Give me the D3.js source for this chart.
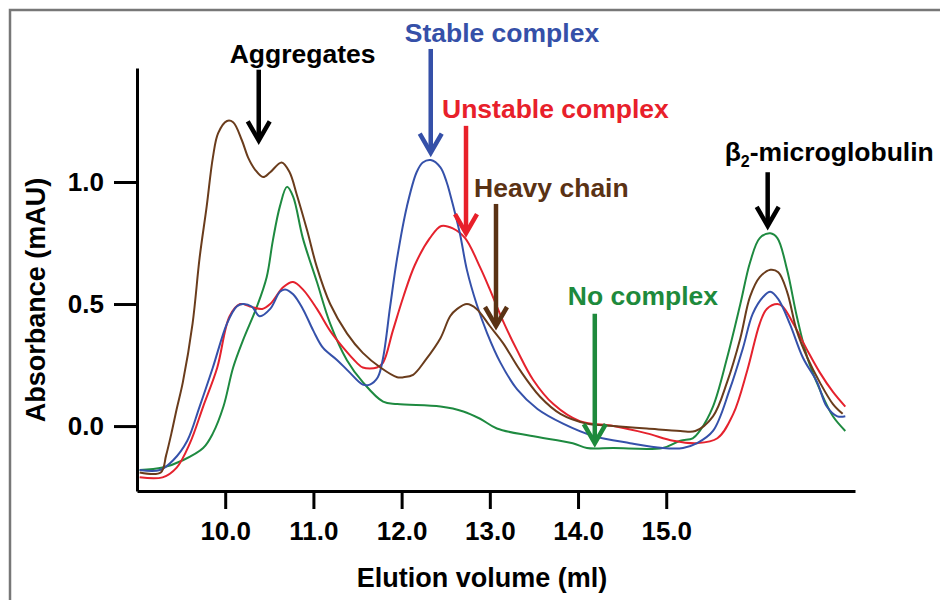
<!DOCTYPE html>
<html>
<head>
<meta charset="utf-8">
<script src="https://cdn.jsdelivr.net/npm/d3@7"></script>
<style>
  body { margin: 0; background: #fff; }
  text { font-family: "Liberation Sans", Arial, sans-serif; font-weight: bold; }
</style>
</head>
<body>
<div id="chart"></div>
<script>
// chromatogram traces, [elution volume (ml), absorbance (mAU)]
var stableComplex = [
  [9.03, -0.18], [9.26, -0.18], [9.41, -0.14], [9.57, -0.06], [9.71, 0.08], [9.86, 0.24],
  [10.02, 0.42], [10.13, 0.49], [10.20, 0.50], [10.30, 0.49], [10.39, 0.45], [10.51, 0.48],
  [10.62, 0.55], [10.68, 0.56], [10.77, 0.54], [10.88, 0.48], [11.00, 0.39], [11.11, 0.32],
  [11.27, 0.27], [11.41, 0.22], [11.56, 0.17], [11.64, 0.17], [11.73, 0.20], [11.79, 0.28],
  [11.87, 0.49], [11.95, 0.69], [12.06, 0.90], [12.17, 1.04], [12.24, 1.08], [12.33, 1.09],
  [12.44, 1.06], [12.51, 1.00], [12.55, 0.95], [12.66, 0.79], [12.74, 0.64], [12.85, 0.50],
  [12.97, 0.38], [13.12, 0.26], [13.31, 0.15], [13.54, 0.07], [13.83, 0.01], [14.17, -0.04],
  [14.59, -0.07], [14.96, -0.09], [15.19, -0.09], [15.35, -0.07], [15.53, -0.02], [15.72, 0.15],
  [15.87, 0.32], [15.98, 0.46], [16.10, 0.53], [16.18, 0.55], [16.27, 0.52], [16.40, 0.42],
  [16.55, 0.28], [16.71, 0.18], [16.82, 0.08], [16.94, 0.04], [17.03, 0.04]
];

var unstableComplex = [
  [9.03, -0.21], [9.29, -0.21], [9.45, -0.17], [9.60, -0.07], [9.75, 0.08], [9.91, 0.24],
  [10.05, 0.45], [10.17, 0.50], [10.28, 0.49], [10.42, 0.48], [10.51, 0.50], [10.66, 0.57],
  [10.77, 0.59], [10.88, 0.56], [11.04, 0.48], [11.19, 0.39], [11.34, 0.32], [11.49, 0.26],
  [11.56, 0.24], [11.72, 0.24], [11.79, 0.26], [11.90, 0.39], [12.02, 0.53], [12.15, 0.66],
  [12.32, 0.77], [12.45, 0.82], [12.58, 0.81], [12.72, 0.77], [12.89, 0.65], [13.00, 0.56],
  [13.15, 0.43], [13.31, 0.31], [13.49, 0.19], [13.72, 0.09], [14.02, 0.02], [14.40, 0.00],
  [14.78, -0.03], [15.08, -0.06], [15.35, -0.07], [15.58, -0.05], [15.76, 0.05], [15.92, 0.23],
  [16.06, 0.42], [16.14, 0.48], [16.26, 0.50], [16.32, 0.49], [16.44, 0.42], [16.60, 0.31],
  [16.74, 0.22], [16.89, 0.14], [17.03, 0.08]
];

var heavyChain = [
  [9.03, -0.19], [9.27, -0.19], [9.33, -0.12], [9.39, -0.03], [9.45, 0.07], [9.52, 0.18],
  [9.63, 0.42], [9.71, 0.69], [9.79, 0.90], [9.86, 1.10], [9.92, 1.20], [10.02, 1.25],
  [10.09, 1.245], [10.19, 1.17], [10.26, 1.10], [10.34, 1.05], [10.43, 1.02], [10.51, 1.04],
  [10.64, 1.08], [10.73, 1.04], [10.81, 0.95], [10.93, 0.80], [11.04, 0.65], [11.19, 0.50],
  [11.38, 0.38], [11.56, 0.30], [11.76, 0.24], [11.95, 0.20], [12.02, 0.20], [12.13, 0.21],
  [12.27, 0.27], [12.44, 0.36], [12.55, 0.45], [12.63, 0.48], [12.74, 0.50], [12.85, 0.48],
  [13.00, 0.41], [13.15, 0.34], [13.34, 0.23], [13.57, 0.12], [13.80, 0.05], [14.10, 0.01],
  [14.40, 0.00], [14.78, -0.01], [15.16, -0.02], [15.33, -0.02], [15.53, 0.04], [15.69, 0.18],
  [15.84, 0.36], [15.95, 0.53], [16.06, 0.61], [16.18, 0.64], [16.27, 0.63], [16.37, 0.55],
  [16.48, 0.39], [16.60, 0.28], [16.74, 0.18], [16.89, 0.09], [17.00, 0.05]
];

var noComplex = [
  [9.03, -0.18], [9.29, -0.17], [9.52, -0.14], [9.75, -0.09], [9.86, -0.03], [9.98, 0.08],
  [10.09, 0.24], [10.20, 0.35], [10.36, 0.49], [10.47, 0.61], [10.54, 0.76], [10.62, 0.90],
  [10.70, 0.98], [10.77, 0.94], [10.88, 0.77], [11.04, 0.59], [11.19, 0.42], [11.38, 0.27],
  [11.56, 0.18], [11.79, 0.10], [11.95, 0.09], [12.44, 0.08], [12.70, 0.06], [12.89, 0.03],
  [13.08, -0.01], [13.46, -0.04], [13.94, -0.07], [14.10, -0.09], [14.40, -0.09], [14.96, -0.09],
  [15.16, -0.06], [15.30, -0.05], [15.38, -0.02], [15.53, 0.08], [15.69, 0.28], [15.84, 0.50],
  [15.95, 0.67], [16.06, 0.77], [16.18, 0.79], [16.26, 0.77], [16.37, 0.64], [16.48, 0.45],
  [16.60, 0.28], [16.74, 0.15], [16.89, 0.04], [17.03, -0.02]
];

// axis ticks
var xTicks = [10, 11, 12, 13, 14, 15];
var yTicks = [0, 0.5, 1.0];

// annotated peaks: volume, arrow tip and arrow tail absorbance
var peakLabels = ["Aggregates", "Stable complex", "Unstable complex", "Heavy chain", "No complex", "β2-microglobulin"];
var peakVolume = [10.38, 12.33, 12.73, 13.07, 14.19, 16.15];
var peakTip = [1.17, 1.12, 0.79, 0.41, -0.07, 0.82];
var peakTail = [1.46, 1.545, 1.23, 0.91, 0.46, 1.04];

var svgWidth = 940;
var svgHeight = 600;

var margin = { top: 68, bottom: 109, left: 137, right: 85 };
var width = svgWidth - margin.left - margin.right;
var height = svgHeight - margin.top - margin.bottom;

var svg = d3.select("#chart")
  .append("svg")
    .attr("width", svgWidth)
    .attr("height", svgHeight);

// grey frame around the figure
svg.append("rect")
    .attr("x", 10)
    .attr("y", 10)
    .attr("width", 1000)
    .attr("height", 1000)
    .attr("fill", "none")
    .attr("stroke", "#777")
    .attr("stroke-width", 2.5);

var g = svg.append("g")
    .attr("transform", `translate(${margin.left}, ${margin.top})`);

var xScale = d3.scaleLinear()
    .domain([9.0, 17.14])
    .range([0, width]);

var yScale = d3.scaleLinear()
    .domain([-0.266, 1.467])
    .range([height, 0]);

var bottomAxis = d3.axisBottom(xScale)
    .tickValues(xTicks)
    .tickFormat(d3.format(".1f"))
    .tickSize(18)
    .tickSizeOuter(0)
    .tickPadding(13);

var leftAxis = d3.axisLeft(yScale)
    .tickValues(yTicks)
    .tickFormat(d3.format(".1f"))
    .tickSize(23)
    .tickSizeOuter(0)
    .tickPadding(10);

var bottomAxisG = g.append("g")
    .attr("transform", `translate(0,${height})`)
    .call(bottomAxis);

var leftAxisG = g.append("g").call(leftAxis);

[bottomAxisG, leftAxisG].forEach(ax => {
  ax.selectAll("path, line")
      .attr("stroke", "#000")
      .attr("stroke-width", 3);
  ax.selectAll("text")
      .attr("fill", "#000")
      .style("font-size", "26px")
      .style("font-family", "'Liberation Sans', Arial, sans-serif")
      .style("font-weight", "bold");
});

// axis titles
svg.append("text")
    .attr("x", 482)
    .attr("y", 587)
    .attr("text-anchor", "middle")
    .style("font-size", "27px")
    .text("Elution volume (ml)");

svg.append("text")
    .attr("transform", "translate(45,300) rotate(-90)")
    .attr("text-anchor", "middle")
    .style("font-size", "27px")
    .text("Absorbance (mAU)");

// traces
var line = d3.line()
    .x(d => xScale(d[0]))
    .y(d => yScale(d[1]))
    .curve(d3.curveCatmullRom.alpha(0.5));

var traces = [
  { data: noComplex, color: "#1e8a40" },
  { data: unstableComplex, color: "#e5222d" },
  { data: stableComplex, color: "#3551aa" },
  { data: heavyChain, color: "#6a3c1c" }
];

g.selectAll(".trace").data(traces)
  .enter().append("path")
    .attr("class", "trace")
    .attr("d", d => line(d.data))
    .attr("fill", "none")
    .attr("stroke", d => d.color)
    .attr("stroke-width", 2);

// labels with arrows
var labelColors = ["#000", "#3550a8", "#e8202a", "#5a3214", "#1e8a3c", "#000"];
var labelDx = [-29, -26, -24, -22, -27, -43];
var labelDy = [-7, -7, -8, -7, -9, -11];

peakLabels.forEach((label, i) => {
  var ax = margin.left + xScale(peakVolume[i]);
  var tipY = margin.top + yScale(peakTip[i]);
  var tailY = margin.top + yScale(peakTail[i]);
  var color = labelColors[i];

  svg.append("line")
      .attr("x1", ax).attr("x2", ax)
      .attr("y1", tailY).attr("y2", tipY - 2)
      .attr("stroke", color)
      .attr("stroke-width", 4.5);

  svg.append("path")
      .attr("d", `M${ax - 11},${tipY - 19} L${ax},${tipY} L${ax + 11},${tipY - 19}`)
      .attr("fill", "none")
      .attr("stroke", color)
      .attr("stroke-width", 4.5)
      .attr("stroke-linejoin", "miter");

  var t = svg.append("text")
      .attr("x", ax + labelDx[i])
      .attr("y", tailY + labelDy[i])
      .attr("fill", color)
      .style("font-size", "26.5px");

  if (label.indexOf("β2") === 0) {
    t.append("tspan").text("β");
    t.append("tspan")
        .attr("dy", 6)
        .style("font-size", "16px")
        .text("2");
    t.append("tspan")
        .attr("dy", -6)
        .text(label.slice(2));
  } else {
    t.text(label);
  }
});
</script>
</body>
</html>
